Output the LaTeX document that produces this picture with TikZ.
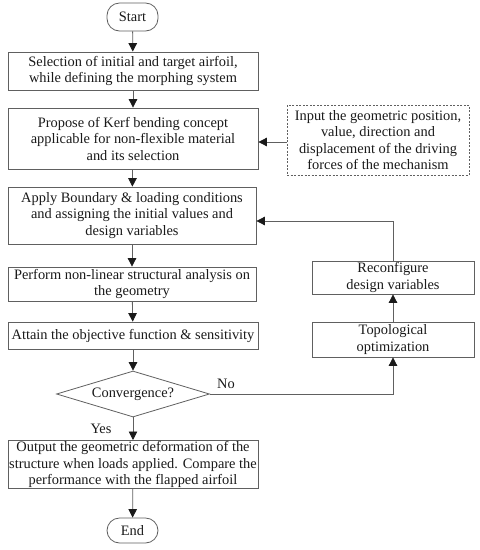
\documentclass[tikz,border=0pt]{standalone}
\usepackage{fontspec}
\setmainfont{Liberation Serif}
\usetikzlibrary{arrows.meta,shapes.geometric,calc}
\definecolor{lc}{HTML}{606060}
\definecolor{tc}{HTML}{1A1A1A}
\tikzset{
  base/.style={draw=lc,line width=0.8pt,text=tc,align=center,inner sep=1pt,font=\fontsize{14.4}{16.5}\selectfont},
  box/.style={base,rectangle},
  term/.style={base,rectangle,rounded corners=12.5pt},
  dbox/.style={base,rectangle,dashed,dash pattern=on 2pt off 1.5pt},
  dec/.style={base,diamond,aspect=3.33,inner sep=0pt},
  arr/.style={draw=lc,line width=0.8pt,-{Triangle[length=8.5pt,width=8.5pt,color=tc]}},
  lbl/.style={text=tc,font=\fontsize{14.4}{16.5}\selectfont,inner sep=0pt}
}
\begin{document}
\begin{tikzpicture}[x=1pt,y=-1pt]
\useasboundingbox[fill=white] (0,0) rectangle (480,550);
\node[term,minimum width=51pt,minimum height=28pt] (start) at (132.5,17) {Start};
\node[box,minimum width=250pt,minimum height=38pt] (b1) at (133,71) {Selection of initial and target airfoil,\\while defining the morphing system};
\node[box,minimum width=250pt,minimum height=61pt] (b2) at (133,138.5) {Propose of Kerf bending concept\\applicable for non-flexible material\\and its selection};
\node[dbox,minimum width=182pt,minimum height=70pt] (dash) at (378,140) {Input the geometric position,\\value, direction and\\displacement of the driving\\forces of the mechanism};
\node[box,minimum width=248pt,minimum height=57pt] (b3) at (132,215.5) {Apply Boundary \& loading conditions\\and assigning the initial values and\\design variables};
\node[box,minimum width=248pt,minimum height=34pt] (b4) at (132,284) {Perform non-linear structural analysis on\\the geometry};
\node[box,minimum width=250pt,minimum height=27pt] (b5) at (133,335.5) {Attain the objective function \& sensitivity};
\node[dec,minimum width=153pt,minimum height=46pt] (dia) at (133,394) {Convergence?};
\node[box,minimum width=162pt,minimum height=33pt] (r1) at (393,277.5) {Reconfigure\\design variables};
\node[box,minimum width=162pt,minimum height=35pt] (r2) at (393,339.5) {Topological\\optimization};
\node[box,minimum width=250pt,minimum height=47pt] (out) at (133,464.5) {Output the geometric deformation of the\\structure when loads applied. Compare the\\performance with the flapped airfoil};
\node[term,minimum width=51pt,minimum height=25pt] (end) at (132.5,530.5) {End};
\node[lbl] (no) at (226,384) {No};
\node[lbl] (yes) at (101,429) {Yes};
\draw[arr] (start) -- (b1);
\draw[arr] (b1) -- (b2);
\draw[arr] (b2) -- (b3);
\draw[arr] (b3) -- (b4);
\draw[arr] (b4) -- (b5);
\draw[arr] (b5) -- (dia);
\draw[arr] (dia) -- (out);
\draw[arr] (out) -- (end);
\draw[arr] ($(dash.west)+(0,2)$) -- ($(dash.west -| b2.east)+(0,2)$);
\draw[arr] (dia.east) -| (r2.south);
\draw[arr] (r2) -- (r1);
\draw[arr] (r1.north) |- ($(b3.east)+(0,5.5)$);
\end{tikzpicture}
\end{document}
